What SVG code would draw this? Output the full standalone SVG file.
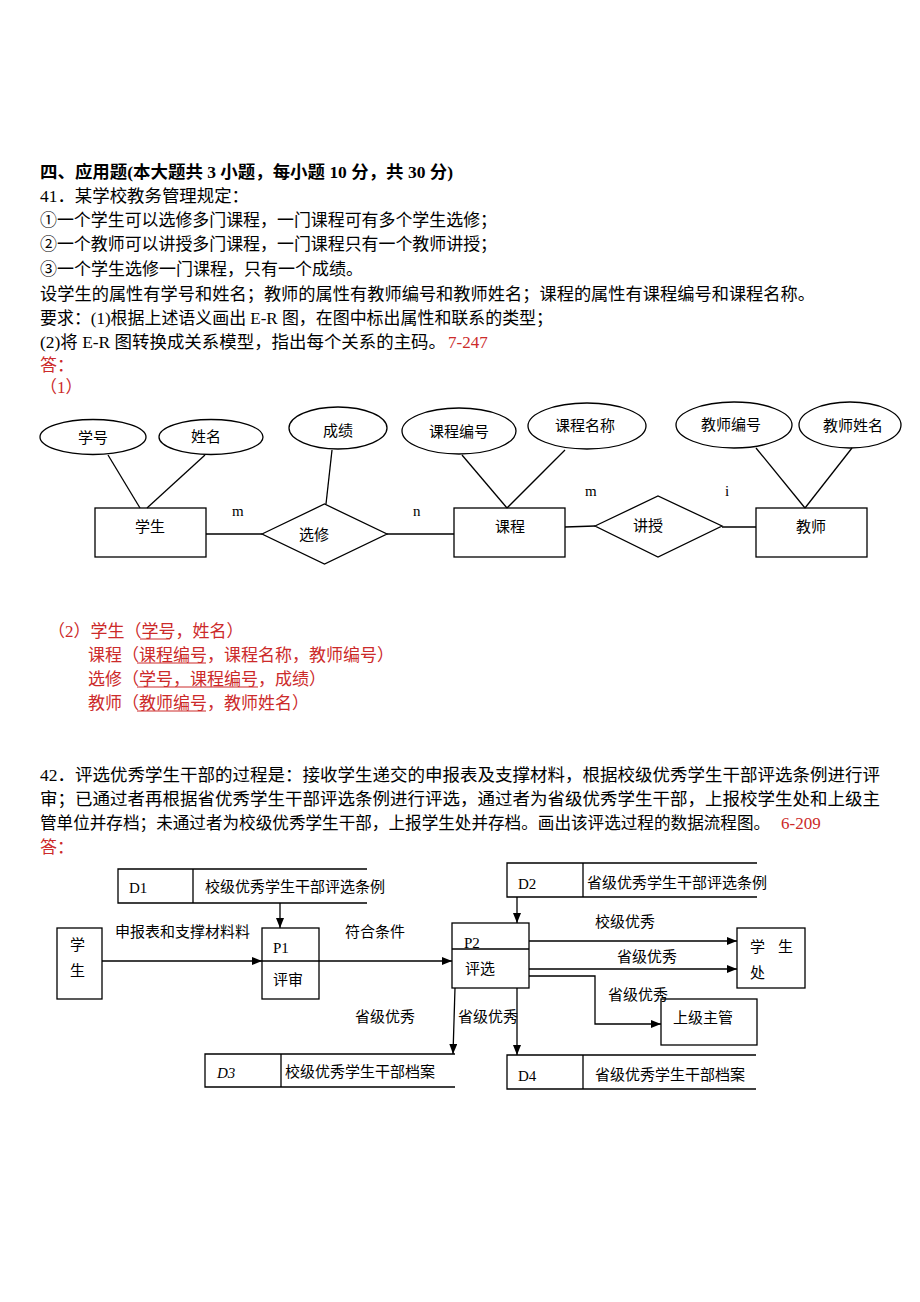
<svg xmlns="http://www.w3.org/2000/svg" width="920" height="1302" viewBox="0 0 920 1302">
<style>
text{font-family:"Liberation Serif","Noto Sans CJK SC",serif;fill:#000}
.t{font-size:17px}
.r{fill:#cc2a2a}
.n{font-size:15px;text-anchor:middle}
.d{font-size:15px}
.s{fill:none;stroke:#000;stroke-width:1.3}
.ln{stroke:#000;stroke-width:1.3;fill:none}
.u{stroke:#cc2a2a;stroke-width:1}
</style>
<defs>
<marker id="ah" viewBox="0 0 10 8" refX="10" refY="4" markerWidth="10" markerHeight="8" markerUnits="userSpaceOnUse" orient="auto">
<path d="M0,0 L10,4 L0,8 z" fill="#000"/>
</marker>
</defs>
<rect width="920" height="1302" fill="#fff"/>

<g id="question41">
<text class="t" x="40" y="178" font-weight="bold" textLength="413" lengthAdjust="spacingAndGlyphs">四、应用题(本大题共 3 小题，每小题 10 分，共 30 分)</text>
<text class="t" x="40" y="202" textLength="209" lengthAdjust="spacingAndGlyphs">41．某学校教务管理规定：</text>
<text class="t" x="40" y="226" textLength="457" lengthAdjust="spacingAndGlyphs">①一个学生可以选修多门课程，一门课程可有多个学生选修；</text>
<text class="t" x="40" y="250" textLength="457" lengthAdjust="spacingAndGlyphs">②一个教师可以讲授多门课程，一门课程只有一个教师讲授；</text>
<text class="t" x="40" y="275" textLength="323" lengthAdjust="spacingAndGlyphs">③一个学生选修一门课程，只有一个成绩。</text>
<text class="t" x="40" y="300" textLength="775" lengthAdjust="spacingAndGlyphs">设学生的属性有学号和姓名；教师的属性有教师编号和教师姓名；课程的属性有课程编号和课程名称。</text>
<text class="t" x="40" y="324" textLength="513" lengthAdjust="spacingAndGlyphs">要求：(1)根据上述语义画出 E-R 图，在图中标出属性和联系的类型；</text>
<text class="t" x="40" y="348" textLength="406" lengthAdjust="spacingAndGlyphs">(2)将 E-R 图转换成关系模型，指出每个关系的主码。</text>
<text class="t r" x="448" y="348">7-247</text>
<text class="t r" x="40" y="371">答：</text>
<text class="t r" x="40" y="393">（1）</text>
</g>

<g id="er-connectors">
<line class="ln" x1="108" y1="455" x2="140" y2="508"/>
<line class="ln" x1="205" y1="455" x2="147" y2="508"/>
<line class="ln" x1="332" y1="450" x2="326" y2="504"/>
<line class="ln" x1="206" y1="534" x2="262" y2="534"/>
<line class="ln" x1="387" y1="534" x2="454" y2="534"/>
<line class="ln" x1="462" y1="455" x2="507" y2="508"/>
<line class="ln" x1="565" y1="450" x2="507" y2="508"/>
<line class="ln" x1="565" y1="527" x2="595" y2="526"/>
<line class="ln" x1="722" y1="527" x2="756" y2="527"/>
<line class="ln" x1="756" y1="448" x2="805" y2="508"/>
<line class="ln" x1="852" y1="448" x2="805" y2="508"/>
<text class="d" x="232" y="516">m</text>
<text class="d" x="413" y="516">n</text>
<text class="d" x="585" y="496">m</text>
<text class="d" x="725" y="496">i</text>
</g>

<g id="attr-xuehao"><ellipse class="s" cx="93" cy="437" rx="53" ry="17.5"/><text class="n" x="93" y="443">学号</text></g>
<g id="attr-xingming"><ellipse class="s" cx="211" cy="437" rx="52" ry="17.5"/><text class="n" x="206" y="442">姓名</text></g>
<g id="attr-chengji"><ellipse class="s" cx="338" cy="428" rx="49" ry="21"/><text class="n" x="338" y="436">成绩</text></g>
<g id="attr-kcbh"><ellipse class="s" cx="459" cy="431" rx="57" ry="23"/><text class="n" x="459" y="437">课程编号</text></g>
<g id="attr-kcmc"><ellipse class="s" cx="587" cy="426" rx="59" ry="23"/><text class="n" x="585" y="431">课程名称</text></g>
<g id="attr-jsbh"><ellipse class="s" cx="734" cy="425" rx="58" ry="23"/><text class="n" x="731" y="430">教师编号</text></g>
<g id="attr-jsxm"><ellipse class="s" cx="850" cy="425" rx="51" ry="23"/><text class="n" x="853" y="431">教师姓名</text></g>
<g id="ent-xuesheng"><rect class="s" x="95" y="508" width="111" height="49"/><text class="n" x="150" y="532">学生</text></g>
<g id="rel-xuanxiu"><polygon class="s" points="262,534 324.5,504 387,534 324.5,564"/><text class="n" x="314" y="540">选修</text></g>
<g id="ent-kecheng"><rect class="s" x="454" y="508" width="111" height="49"/><text class="n" x="510" y="532">课程</text></g>
<g id="rel-jiangshou"><polygon class="s" points="595,526 658,496 722,526 658,557"/><text class="n" x="648" y="531">讲授</text></g>
<g id="ent-jiaoshi"><rect class="s" x="756" y="508" width="111" height="49"/><text class="n" x="811" y="532">教师</text></g>

<g id="answer2">
<text class="t r" x="48" y="637">（2）学生（学号，姓名）</text>
<text class="t r" x="88" y="661">课程（课程编号，课程名称，教师编号）</text>
<text class="t r" x="88" y="685">选修（学号，课程编号，成绩）</text>
<text class="t r" x="88" y="709">教师（教师编号，教师姓名）</text>
<line class="u" x1="140" y1="639" x2="170" y2="639"/>
<line class="u" x1="137" y1="663" x2="206" y2="663"/>
<line class="u" x1="137" y1="687" x2="258" y2="687"/>
<line class="u" x1="137" y1="711" x2="206" y2="711"/>
</g>

<g id="question42">
<text class="t" x="40" y="781" textLength="840" lengthAdjust="spacingAndGlyphs">42．评选优秀学生干部的过程是：接收学生递交的申报表及支撑材料，根据校级优秀学生干部评选条例进行评</text>
<text class="t" x="40" y="805" textLength="840" lengthAdjust="spacingAndGlyphs">审；已通过者再根据省优秀学生干部评选条例进行评选，通过者为省级优秀学生干部，上报校学生处和上级主</text>
<text x="40" y="829" font-size="16.6">管单位并存档；未通过者为校级优秀学生干部，上报学生处并存档。画出该评选过程的数据流程图。</text>
<text class="t r" x="781" y="829">6-209</text>
<text class="t r" x="40" y="853">答：</text>
</g>

<g id="dfd-connectors">
<line class="ln" x1="280" y1="903" x2="280" y2="928" marker-end="url(#ah)"/>
<line class="ln" x1="102" y1="961" x2="262" y2="961" marker-end="url(#ah)"/>
<line class="ln" x1="319" y1="961" x2="452" y2="961" marker-end="url(#ah)"/>
<line class="ln" x1="517" y1="897" x2="517" y2="923" marker-end="url(#ah)"/>
<line class="ln" x1="529" y1="941" x2="737" y2="941" marker-end="url(#ah)"/>
<line class="ln" x1="529" y1="969" x2="737" y2="969" marker-end="url(#ah)"/>
<polyline class="ln" points="529,976 595,976 595,1024 661,1024" marker-end="url(#ah)"/>
<line class="ln" x1="517" y1="988" x2="517" y2="1055" marker-end="url(#ah)"/>
<line class="ln" x1="455" y1="988" x2="453" y2="1054" marker-end="url(#ah)"/>
<text class="d" x="115" y="937" font-size="16">申报表和支撑材料料</text>
<text class="d" x="345" y="937">符合条件</text>
<text class="d" x="595" y="927">校级优秀</text>
<text class="d" x="617" y="962">省级优秀</text>
<text class="d" x="608" y="1000">省级优秀</text>
<text class="d" x="458" y="1022">省级优秀</text>
<text class="d" x="355" y="1022">省级优秀</text>
</g>

<g id="store-d1">
<path class="s" d="M367,869 H118 V903 H367 M193,869 V903"/>
<text class="d" x="129" y="893" font-size="16">D1</text>
<text class="d" x="205" y="892">校级优秀学生干部评选条例</text>
</g>
<g id="ext-xuesheng">
<rect class="s" x="57" y="928" width="45" height="71"/>
<text class="d" x="70" y="950" font-size="16">学</text>
<text class="d" x="70" y="976" font-size="16">生</text>
</g>
<g id="proc-p1">
<rect class="s" x="262" y="928" width="57" height="71"/>
<line class="ln" x1="262" y1="961" x2="319" y2="961"/>
<text class="d" x="273" y="953" font-size="16">P1</text>
<text class="d" x="273" y="985">评审</text>
</g>
<g id="proc-p2">
<rect class="s" x="452" y="923" width="77" height="65"/>
<line class="ln" x1="452" y1="949" x2="529" y2="949"/>
<text class="d" x="464" y="948" font-size="16">P2</text>
<text class="d" x="465" y="974">评选</text>
</g>
<g id="store-d2">
<path class="s" d="M757,863 H507 V897 H757 M583,863 V897"/>
<text class="d" x="518" y="889" font-size="16">D2</text>
<text class="d" x="587" y="888">省级优秀学生干部评选条例</text>
</g>
<g id="ext-xueshengchu">
<rect class="s" x="737" y="928" width="68" height="60"/>
<text class="d" x="750" y="952">学</text>
<text class="d" x="778" y="952">生</text>
<text class="d" x="750" y="978">处</text>
</g>
<g id="ext-shangjizhuguan">
<rect class="s" x="661" y="999" width="96" height="46"/>
<text class="d" x="673" y="1023">上级主管</text>
</g>
<g id="store-d3">
<path class="s" d="M455,1054 H205 V1087 H455 M281,1054 V1087"/>
<text class="d" x="217" y="1078" font-size="16" font-style="italic">D3</text>
<text class="d" x="285" y="1077">校级优秀学生干部档案</text>
</g>
<g id="store-d4">
<path class="s" d="M756,1055 H507 V1089 H756 M583,1055 V1089"/>
<text class="d" x="518" y="1081" font-size="16">D4</text>
<text class="d" x="595" y="1080">省级优秀学生干部档案</text>
</g>
</svg>
